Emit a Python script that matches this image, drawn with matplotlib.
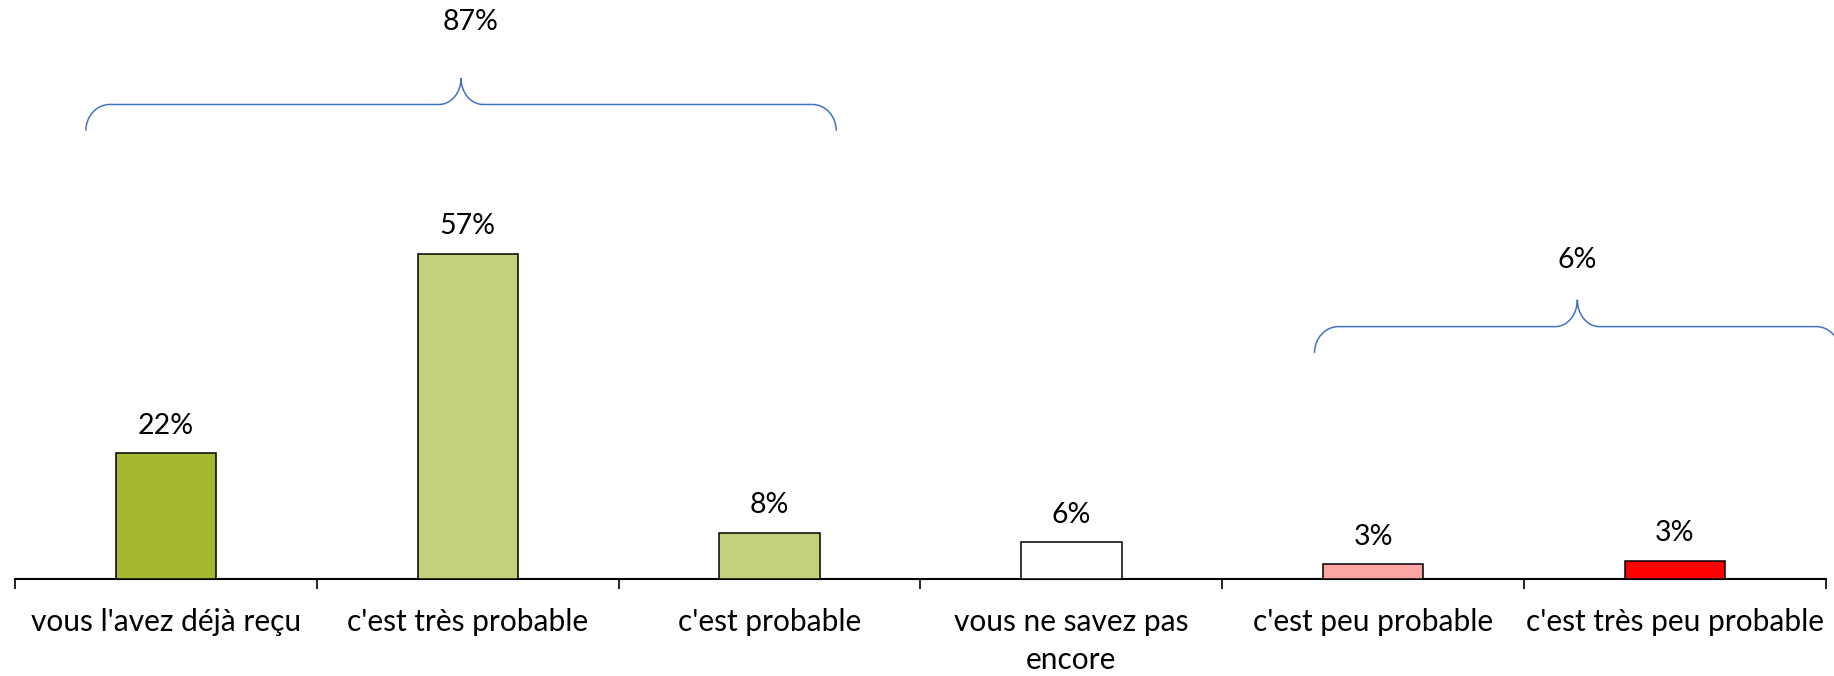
import matplotlib
matplotlib.use("Agg")
import matplotlib.pyplot as plt
from matplotlib.path import Path
from matplotlib.patches import PathPatch

# ---- data ----
categories = ["vous l'avez déjà reçu", "c'est très probable", "c'est probable",
              "vous ne savez pas\nencore", "c'est peu probable", "c'est très peu probable"]
values = [22, 57, 8.1, 6.4, 2.6, 3.2]
value_labels = ["22%", "57%", "8%", "6%", "3%", "3%"]
bar_colors = ["#A6B82F", "#C4D17B", "#C4D17B", "#FFFFFF", "#FAA6A5", "#FF0000"]
# groups summarised by a brace: (first index, last index)
groups = [(0, 2), (4, 5)]

plt.rcParams['font.family'] = ['Lato', 'DejaVu Sans']

W, H, DPI = 1834, 676, 100
fig = plt.figure(figsize=(W / DPI, H / DPI), dpi=DPI)
ax_left, ax_right, ax_bottom_px = 15.2, 1825.7, 579
ax = fig.add_axes([ax_left / W, 1 - ax_bottom_px / H, (ax_right - ax_left) / W, ax_bottom_px / H])

x = list(range(len(categories)))
bars = ax.bar(x, values, width=0.333, color=bar_colors, edgecolor="black", linewidth=1.1, zorder=3)

ax.set_xlim(-0.5, len(categories) - 0.5)
ax.set_ylim(0, 101.4)

for s in ["top", "left", "right"]:
    ax.spines[s].set_visible(False)
ax.spines["bottom"].set_linewidth(1.5)
ax.spines["bottom"].set_color("black")
ax.set_yticks([])

ax.set_xticks(x)
ax.set_xticklabels(categories, fontsize=21.5, color="black", linespacing=1.42)
ax.tick_params(axis="x", which="major", length=0, pad=21)
ax.set_xticks([i - 0.5 for i in range(len(categories) + 1)], minor=True)
ax.tick_params(axis="x", which="minor", length=7.5, width=1.2, direction="out", color="black")

for xi, v, lab in zip(x, values, value_labels):
    ax.annotate(lab, (xi, v), xytext=(0, 14), textcoords="offset points",
                ha="center", va="baseline", fontsize=20.5, color="black")

# ---- braces ----
brace_color = "#4472C4"
# layout of the braces (data units): left, right, bottom, horizontal level, tip
brace_layout = [
    dict(left=-0.266, right=2.221, bottom=78.5, level=83.1, tip=87.7, text_y=96.1, text_dx=0.032),
    dict(left=3.806, right=5.548, bottom=39.6, level=44.2, tip=48.9, text_y=54.4, text_dx=0.0),
]
rx_end, rx_mid = 0.079, 0.073
k = 0.5523

def brace_path(x0, x1, yb, yh, yt):
    xm = (x0 + x1) / 2
    ry1 = yh - yb
    ry2 = yt - yh
    verts = [
        (x0, yb),
        (x0, yb + k * ry1), (x0 + rx_end - k * rx_end, yh), (x0 + rx_end, yh),
        (xm - rx_mid, yh),
        (xm - rx_mid + k * rx_mid, yh), (xm, yt - k * ry2), (xm, yt),
        (xm, yt - k * ry2), (xm + rx_mid - k * rx_mid, yh), (xm + rx_mid, yh),
        (x1 - rx_end, yh),
        (x1 - rx_end + k * rx_end, yh), (x1, yb + k * ry1), (x1, yb),
    ]
    codes = [Path.MOVETO,
             Path.CURVE4, Path.CURVE4, Path.CURVE4,
             Path.LINETO,
             Path.CURVE4, Path.CURVE4, Path.CURVE4,
             Path.CURVE4, Path.CURVE4, Path.CURVE4,
             Path.LINETO,
             Path.CURVE4, Path.CURVE4, Path.CURVE4]
    return Path(verts, codes)

for (g0, g1), lay in zip(groups, brace_layout):
    total = sum(values[g0:g1 + 1])
    p = brace_path(lay["left"], lay["right"], lay["bottom"], lay["level"], lay["tip"])
    ax.add_patch(PathPatch(p, facecolor="none", edgecolor=brace_color, linewidth=1.1, clip_on=False))
    xm = (lay["left"] + lay["right"]) / 2
    ax.text(xm + lay["text_dx"], lay["text_y"], f"{total:.0f}%", ha="center", va="baseline",
            fontsize=20.5, color="black", clip_on=False)

fig.savefig("out.png", dpi=DPI)
